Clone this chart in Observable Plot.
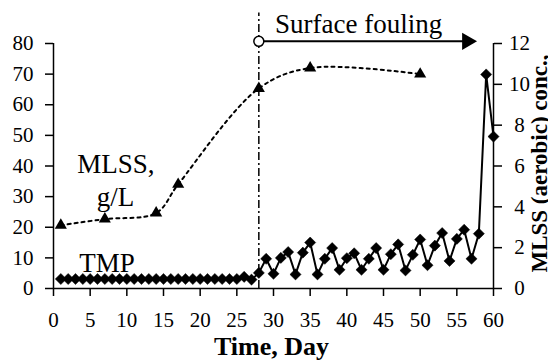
<!DOCTYPE html>
<html><head><meta charset="utf-8">
<script src="https://cdn.jsdelivr.net/npm/d3@7"></script>
<script src="https://cdn.jsdelivr.net/npm/@observablehq/plot@0.6"></script>
<style>
html,body{margin:0;padding:0;background:#fff;}
svg{display:block}
svg, svg text {font-family: "Liberation Serif", "Times New Roman", Times, "DejaVu Serif", serif !important;}
</style>
</head><body><div id="chart"></div>
<script>
// TMP readings, one per day (days 1..60), left axis
const tmpValues = [
  3.1, 3.1, 3.1, 3.1, 3.1, 3.1, 3.1, 3.1, 3.1, 3.1,
  3.1, 3.1, 3.1, 3.1, 3.1, 3.1, 3.1, 3.1, 3.1, 3.1,
  3.1, 3.1, 3.1, 3.1, 3.1, 3.8, 2.9, 5.1, 9.7, 4.8,
  10, 11.9, 4.6, 11.7, 15, 4.6, 9.7, 13.2, 6.1, 9.9,
  11.5, 6.1, 9.7, 13.2, 6.1, 11.2, 14.4, 5.9, 11, 16,
  7.6, 14, 18.1, 9, 16.2, 19.2, 9.7, 17.9, 69.9, 49.6
];
// MLSS (aerobic) g/L, right axis
const mlssDays = [1, 7, 14, 17, 28, 35, 50];
const mlssValues = [3.1, 3.4, 3.7, 5.1, 9.8, 10.8, 10.5];

const xTicks = [0, 5, 10, 15, 20, 25, 30, 35, 40, 45, 50, 55, 60];
const leftTicks = [0, 10, 20, 30, 40, 50, 60, 70, 80];
const rightTicks = [0, 2, 4, 6, 8, 10, 12];
const leftMax = 80, rightMax = 12;
const ratio = leftMax / rightMax;

const foulingStart = 28;
const foulingArrowHead = 56.4;
const foulingLevel = 80.7;

const tmp = tmpValues.map((v, i) => ({day: i + 1, tmp: v}));
const mlss = mlssDays.map((d, i) => ({day: d, mlss: mlssValues[i] * ratio}));

const chart = Plot.plot({
  width: 548, height: 360,
  marginLeft: 53, marginRight: 55, marginTop: 43, marginBottom: 72,
  x: {domain: [0, 60]},
  y: {domain: [0, leftMax]},
  style: {fontFamily: "Liberation Serif, serif", fontSize: "21px", color: "black", background: "white"},
  marks: [
    Plot.axisX({ticks: xTicks, tickSize: 8, tickPadding: 16, label: null, strokeWidth: 1.5}),
    Plot.axisY({ticks: leftTicks, tickSize: 8, tickPadding: 12, label: null, strokeWidth: 1.5}),
    Plot.axisY({anchor: "right", ticks: rightTicks.map(v => v * ratio), tickFormat: d => String(Math.round(d / ratio)),
      tickSize: 8, tickPadding: 18, textAnchor: "middle", label: null, strokeWidth: 1.5}),
    Plot.ruleX([0, 60], {strokeWidth: 1.5}),
    Plot.ruleY([0], {strokeWidth: 1.5}),
    Plot.ruleX([foulingStart], {y1: 0, y2: 90, strokeDasharray: "8,3,2,3", strokeWidth: 1.5}),
    Plot.line(mlss, {x: "day", y: "mlss", curve: "catmull-rom", strokeDasharray: "3,4", strokeWidth: 2}),
    Plot.dot(mlss, {x: "day", y: "mlss", symbol: "triangle", r: 4.5, fill: "black"}),
    Plot.line(tmp, {x: "day", y: "tmp", strokeWidth: 2}),
    Plot.dot(tmp, {x: "day", y: "tmp", symbol: "diamond2", r: 5, fill: "black", stroke: "black", strokeWidth: 0.5}),
    Plot.ruleY([foulingLevel], {x1: foulingStart, x2: foulingArrowHead, strokeWidth: 2}),
    Plot.dot([foulingArrowHead], {x: d => d, y: foulingLevel, symbol: "triangle", r: 6.4, rotate: 90, fill: "black"}),
    Plot.dot([foulingStart], {x: d => d, y: foulingLevel, r: 5, fill: "white", stroke: "black", strokeWidth: 1.5}),
    Plot.text(["Surface fouling"], {text: d => d, x: 41.6, y: 86.2, fontSize: 27}),
    Plot.text(["MLSS,"], {text: d => d, x: 8.5, y: 40.5, fontSize: 27}),
    Plot.text(["g/L"], {text: d => d, x: 8.45, y: 29.6, fontSize: 27}),
    Plot.text(["TMP"], {text: d => d, x: 7.3, y: 8.3, fontSize: 27}),
    Plot.text(["Time, Day"], {text: d => d, frameAnchor: "bottom", textAnchor: "middle", lineAnchor: "middle", dy: 58, dx: -2, fontSize: 26, fontWeight: "bold"}),
    Plot.text(["MLSS (aerobic) conc.,"], {text: d => d, frameAnchor: "right", textAnchor: "middle", lineAnchor: "middle", rotate: -90, dx: 46.5, dy: -2.5, fontSize: 23, fontWeight: "bold"})
  ]
});
document.getElementById("chart").appendChild(chart);
</script>
</body></html>
